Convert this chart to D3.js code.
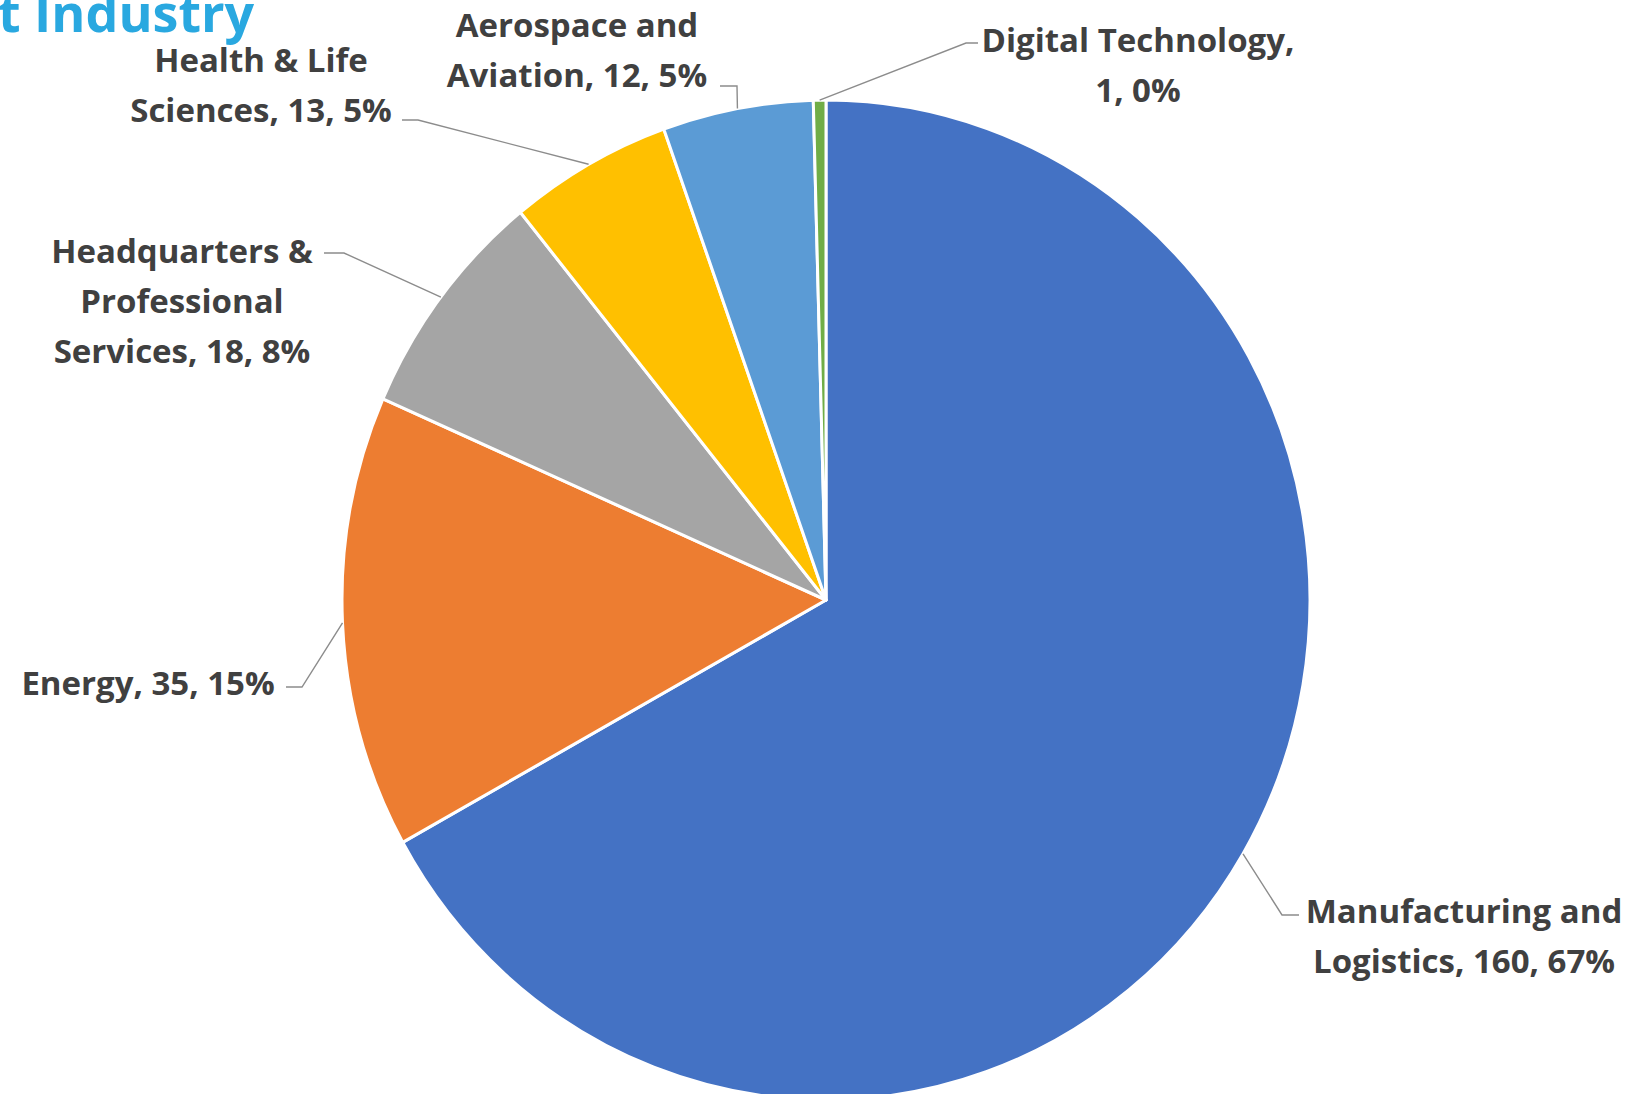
<!DOCTYPE html>
<html>
<head>
<meta charset="utf-8">
<script src="https://cdn.jsdelivr.net/npm/d3@7"></script>
<style>
  html, body { margin: 0; padding: 0; background: #ffffff; }
  svg { display: block; }
</style>
</head>
<body>
<svg id="chart" width="1631" height="1094"></svg>
<script>
// Projects by industry
const categories = [
  "Manufacturing and Logistics",
  "Energy",
  "Headquarters & Professional Services",
  "Health & Life Sciences",
  "Aerospace and Aviation",
  "Digital Technology"
];
const values = [160, 35, 18, 13, 12, 1];
const percentLabels = ["67%", "15%", "8%", "5%", "5%", "0%"];
// Label text, split into lines as shown beside each slice
const labelLines = [
  ["Manufacturing and", "Logistics, 160, 67%"],
  ["Energy, 35, 15%"],
  ["Headquarters &", "Professional", "Services, 18, 8%"],
  ["Health & Life", "Sciences, 13, 5%"],
  ["Aerospace and", "Aviation, 12, 5%"],
  ["Digital Technology,", "1, 0%"]
];
const colors = ["#4472C4", "#ED7D31", "#A5A5A5", "#FFC000", "#5B9BD5", "#70AD47"];

// Layout
const cx = 826, cy = 600, R = 484, ky = 500 / 484;
const lineH = 50;
// label block: centre x, first baseline y, leader polyline start & elbow
const labelLayout = [
  { x: 1464, y: 923, lead: [[1299, 915], [1282, 915]] },
  { x: 148,  y: 695, lead: [[286, 687], [302, 687]] },
  { x: 182,  y: 263, lead: [[324, 253], [344, 253]] },
  { x: 261,  y: 72,  lead: [[402, 120], [418, 120]] },
  { x: 577,  y: 37,  lead: [[720, 86], [737, 86]] },
  { x: 1138, y: 52,  lead: [[978, 43], [966, 43]] }
];

const svg = d3.select("#chart");

// Partial heading text at the top-left corner
svg.append("text")
  .attr("x", -2)
  .attr("y", 32)
  .attr("font-family", "'Open Sans', sans-serif")
  .attr("font-weight", 700)
  .attr("font-size", 52)
  .attr("fill", "#29A8E0")
  .text("t Industry");

const pie = d3.pie().sort(null).value(d => d)
  .startAngle(0).endAngle(2 * Math.PI);
const arcs = pie(values);
const arc = d3.arc().innerRadius(0).outerRadius(R);
const edge = d3.arc().innerRadius(R).outerRadius(R);

const g = svg.append("g")
  .attr("transform", `translate(${cx},${cy}) scale(1,${ky})`);

g.selectAll("path")
  .data(arcs)
  .join("path")
  .attr("d", arc)
  .attr("fill", (d, i) => colors[i])
  .attr("stroke", "#ffffff")
  .attr("stroke-width", 3)
  .attr("stroke-linejoin", "round");

// Leader lines from labels to slice edges
const leaders = svg.append("g");
arcs.forEach((d, i) => {
  const c = edge.centroid(d);
  const end = [cx + c[0], cy + c[1] * ky];
  const pts = labelLayout[i].lead.concat([end]);
  leaders.append("path")
    .attr("d", d3.line()(pts))
    .attr("fill", "none")
    .attr("stroke", "#8c8c8c")
    .attr("stroke-width", 1.4);
});

// Data labels
const labels = svg.append("g")
  .attr("font-family", "'Open Sans', Lato, sans-serif")
  .attr("font-weight", 700)
  .attr("font-size", 33)
  .attr("fill", "#404040")
  .attr("text-anchor", "middle");

labelLines.forEach((lines, i) => {
  const t = labels.append("text")
    .attr("x", labelLayout[i].x)
    .attr("y", labelLayout[i].y);
  lines.forEach((s, j) => {
    t.append("tspan")
      .attr("x", labelLayout[i].x)
      .attr("dy", j === 0 ? 0 : lineH)
      .text(s);
  });
});
</script>
</body>
</html>
